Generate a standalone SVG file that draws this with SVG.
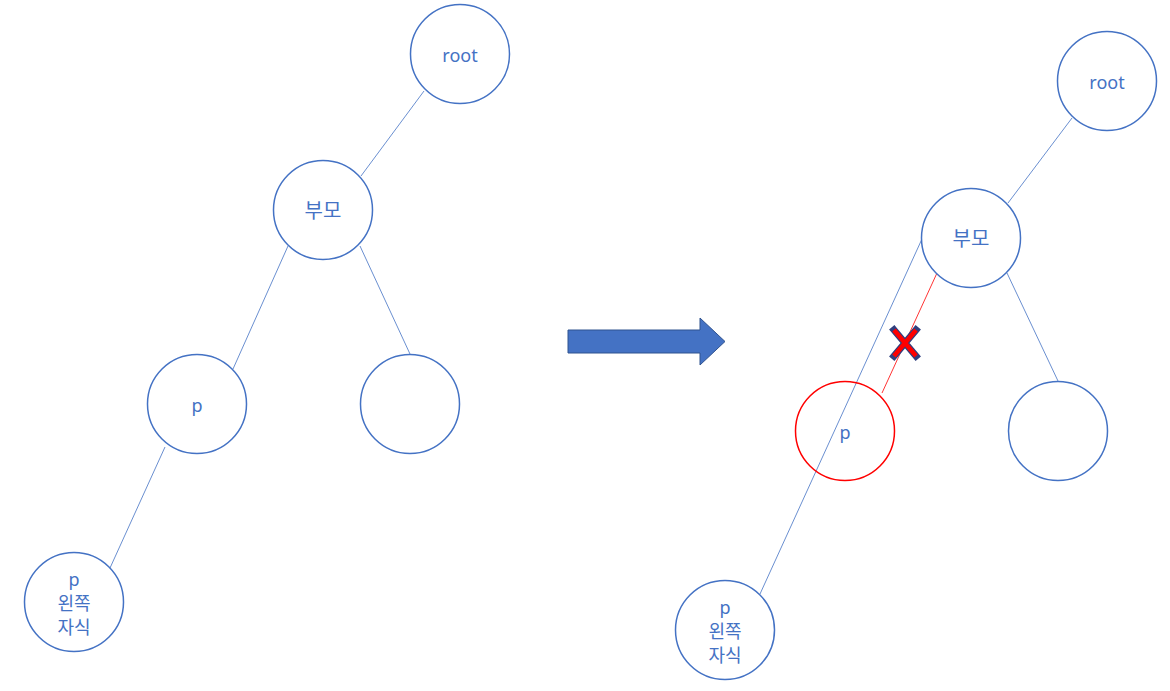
<svg xmlns="http://www.w3.org/2000/svg" width="1170" height="691" viewBox="0 0 1170 691">
<style>
.n{fill:#fff;stroke:#4472C4;stroke-width:1.5}
.r{fill:none;stroke:#FF0000;stroke-width:1.5}
.t{font-family:"Noto Sans","Noto Sans CJK KR",sans-serif;font-size:18px;fill:#4472C4;text-anchor:middle;dominant-baseline:central}
.k{font-size:20px}
.e{stroke:#4472C4;stroke-width:0.8;fill:none}
.er{stroke:#FF0000;stroke-width:0.8;fill:none}
</style>
<rect width="1170" height="691" fill="#fff"/>
<g id="connectors">
<line class="e" x1="424" y1="91" x2="361" y2="176"/>
<line class="e" x1="288" y1="246" x2="233" y2="369"/>
<line class="e" x1="360" y1="246" x2="410" y2="354"/>
<line class="e" x1="165" y1="447" x2="110" y2="568"/>
<line class="e" x1="1072" y1="118" x2="1008" y2="203"/>
<line class="e" x1="1007" y1="273" x2="1058" y2="381"/>
<line class="e" x1="921.5" y1="240" x2="760" y2="594"/>
<line class="er" x1="937" y1="273" x2="882" y2="393"/>
</g>
<g id="L-root"><circle class="n" cx="460" cy="54" r="49.5"/><text class="t" x="460" y="55">root</text></g>
<g id="L-parent"><circle class="n" cx="323" cy="210" r="49.5"/><text class="t k" x="323" y="210">부모</text></g>
<g id="L-p"><circle class="n" cx="197" cy="404" r="49.5"/><text class="t" x="197" y="405">p</text></g>
<g id="L-right"><circle class="n" cx="410" cy="404" r="49.5"/></g>
<g id="L-child"><circle class="n" cx="74" cy="602" r="49.5"/><text class="t" x="74" y="579">p</text><text class="t" x="74" y="603">왼쪽</text><text class="t" x="74" y="627">자식</text></g>
<g id="arrow"><polygon points="568,330 700,330 700,318 725,341.5 700,365 700,353 568,353" fill="#4472C4" stroke="#2F528F" stroke-width="1"/></g>
<g id="R-root"><circle class="n" cx="1107" cy="81" r="49.5"/><text class="t" x="1107" y="82">root</text></g>
<g id="R-parent"><circle class="n" cx="971" cy="238" r="49.5"/><text class="t k" x="971" y="238">부모</text></g>
<g id="R-right"><circle class="n" cx="1058" cy="431" r="49.5"/></g>
<g id="R-p"><circle class="r" cx="845" cy="431" r="49.5"/><text class="t" x="845" y="432">p</text></g>
<g id="R-child"><circle class="n" cx="725" cy="630" r="49.5"/><text class="t" x="725" y="607">p</text><text class="t" x="725" y="631">왼쪽</text><text class="t" x="725" y="655">자식</text></g>
<g id="cross">
<path d="M894,330 L916,356 M916,330 L894,356" stroke="#2F3F7F" stroke-width="7" stroke-linecap="square" fill="none"/>
<path d="M894,330 L916,356 M916,330 L894,356" stroke="#FF0000" stroke-width="4.5" stroke-linecap="butt" fill="none"/>
</g>
</svg>
